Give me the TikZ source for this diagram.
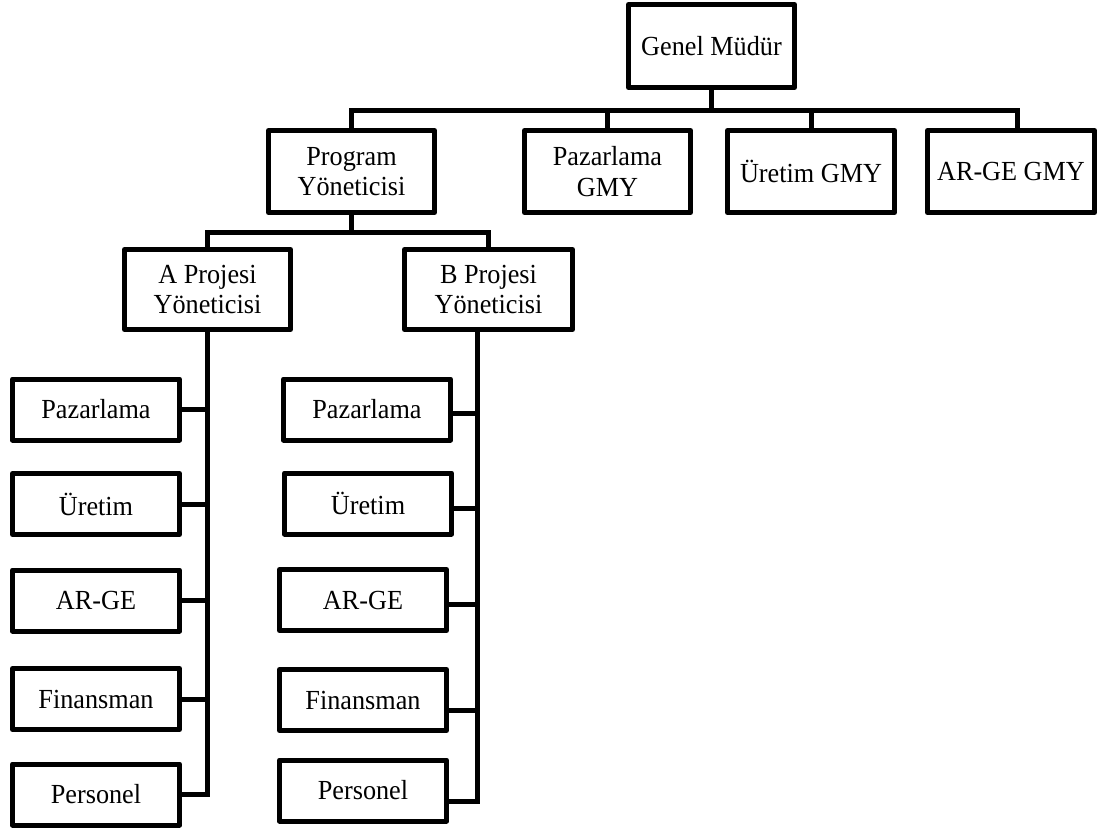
\documentclass[tikz,border=0pt]{standalone}
\usepackage{fontspec}
\setmainfont{Liberation Serif}[FakeStretch=0.95]
\begin{document}
\begin{tikzpicture}[x=1pt,y=-1pt,
  box/.style={draw, line width=5pt, line join=round, inner sep=0pt, align=center,
    font=\fontsize{27.6}{30.5}\selectfont, minimum width=166pt, minimum height=82pt},
  unit/.style={box, minimum width=167pt, minimum height=61pt},
  conn/.style={line width=5pt, line join=miter}]
\useasboundingbox (0,0) rectangle (1099,830);

% top level
\node[box, minimum height=83pt] (gm) at (711.5,46) {Genel Müdür};

% second level
\node[box] (prog)    at (351.5,171.5) {Program\\Yöneticisi};
\node[box] (pazgmy)  at (607.5,171.5) {Pazarlama\\GMY};
\node[box, minimum width=167pt] (uregmy)  at (811,171.5)  {Üretim GMY};
\node[box, minimum width=167pt] (argegmy) at (1011,171.5) {AR-GE GMY};

% project managers
\node[box, minimum height=80pt] (apm) at (207.5,289.5) {A Projesi\\Yöneticisi};
\node[box, minimum width=168pt, minimum height=80pt] (bpm) at (488.5,289.5) {B Projesi\\Yöneticisi};

% units of project A
\node[unit] (apaz) at (96,409.5) {Pazarlama};
\node[unit] (aure) at (96,504)   {Üretim};
\node[unit] (aarg) at (96,600.5) {AR-GE};
\node[unit] (afin) at (96,699)   {Finansman};
\node[unit] (aper) at (96,794.5) {Personel};

% units of project B
\node[unit] (bpaz) at (367,409.5) {Pazarlama};
\node[unit] (bure) at (368,503.5) {Üretim};
\node[unit] (barg) at (363,600)   {AR-GE};
\node[unit] (bfin) at (363,700)   {Finansman};
\node[unit] (bper) at (363,790.5) {Personel};

% connectors: general manager to deputies
\coordinate (b1) at (0,110);
\draw[conn] (gm.south) -- (gm.south |- b1);
\draw[conn] (prog.north) -- (prog.north |- b1)
  -- ([xshift=6pt]argegmy.north |- b1) -- ([xshift=6pt]argegmy.north);
\draw[conn] (pazgmy.north) -- (pazgmy.north |- b1);
\draw[conn] (uregmy.north) -- (uregmy.north |- b1);

% connectors: program manager to project managers
\coordinate (b2) at (0,232);
\draw[conn] (prog.south) -- (prog.south |- b2);
\draw[conn] (apm.north) -- (apm.north |- b2) -- (bpm.north |- b2) -- (bpm.north);

% project A spine
\draw[conn] (apm.south) -- (apm.south |- aper.east) -- (aper.east);
\foreach \u in {apaz,aure,aarg,afin}
  \draw[conn] (\u.east) -- (\u.east -| apm.south);

% project B spine
\coordinate (bsp) at ([xshift=-11pt]bpm.south);
\coordinate (bperc) at ([yshift=-10.5pt]bper.east);
\draw[conn] (bsp) -- (bsp |- bperc) -- (bperc);
\draw[conn] ([yshift=-3.5pt]bpaz.east) -- ([yshift=-3.5pt]bpaz.east -| bsp);
\draw[conn] ([yshift=-4.5pt]bure.east) -- ([yshift=-4.5pt]bure.east -| bsp);
\draw[conn] ([yshift=-4pt]barg.east) -- ([yshift=-4pt]barg.east -| bsp);
\draw[conn] ([yshift=-10pt]bfin.east) -- ([yshift=-10pt]bfin.east -| bsp);
\end{tikzpicture}
\end{document}
